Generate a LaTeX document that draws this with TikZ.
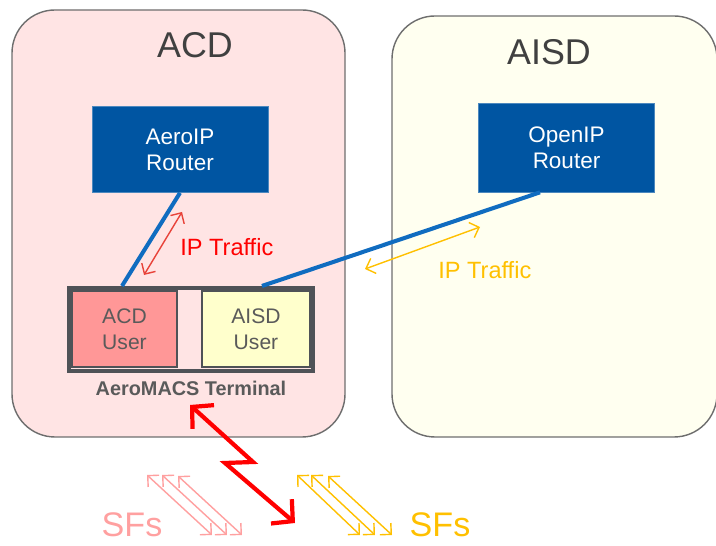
\documentclass[tikz,border=0pt]{standalone}
\usepackage{fontspec}
\setmainfont{Liberation Sans}
\usepackage{tkz-euclide}
\usetikzlibrary{arrows.meta}

\definecolor{acdpink}{HTML}{FFE4E4}
\definecolor{aisdivory}{HTML}{FFFFF0}
\definecolor{zonegrey}{HTML}{6E6E6E}
\definecolor{routerblue}{HTML}{0055A2}
\definecolor{linkblue}{HTML}{106CC0}
\definecolor{usersalmon}{HTML}{FF9797}
\definecolor{useryellow}{HTML}{FFFFCC}
\definecolor{termgrey}{HTML}{4F5257}
\definecolor{trafficred}{HTML}{E8433A}
\definecolor{trafficgold}{HTML}{FFC000}
\definecolor{sfpink}{HTML}{FFA0A0}
\definecolor{labelgrey}{HTML}{404040}
\definecolor{usergrey}{HTML}{5A5A5A}

\tikzset{
  zonebox/.style={draw=zonegrey, line width=0.8pt, rounded corners=0.86cm, inner sep=0pt},
  zonetitle/.style={text=labelgrey, font=\fontsize{20.4}{24}\selectfont},
  router/.style={draw=routerblue!70!white, fill=routerblue, text=white, align=center,
    font=\fontsize{12.8}{14.8}\selectfont, inner sep=0pt, minimum width=3.52cm, minimum height=1.72cm},
  userbox/.style={draw=termgrey, line width=0.6pt, text=usergrey, align=center,
    font=\fontsize{12}{14.8}\selectfont, inner sep=0pt, minimum width=#1, minimum height=1.52cm},
  bluelink/.style={linkblue, line width=2.3pt},
  traffic/.style={{Straight Barb[length=1.6mm,width=3.2mm]}-{Straight Barb[length=1.6mm,width=3.2mm]}, line width=0.8pt},
  radiolink/.style={{Straight Barb[length=3mm,width=6.4mm]}-{Straight Barb[length=3mm,width=6.4mm]},
    red, line width=2.4pt, line join=miter},
  sfarrow/.style={{Straight Barb[length=1.6mm,width=3.2mm]}-{Straight Barb[length=1.6mm,width=3.2mm]}, line width=0.8pt},
  sflabel/.style={inner sep=0pt, font=\fontsize{19.4}{23}\selectfont}
}

\begin{document}
\begin{tikzpicture}
  \useasboundingbox (0,0) rectangle (14.32,10.92);

  \node[zonebox, fill=acdpink, minimum width=6.66cm, minimum height=8.54cm] (acd) at (3.57,6.45) {};
  \node[zonebox, fill=aisdivory, minimum width=6.5cm, minimum height=8.42cm] (aisd) at (11.09,6.39) {};
  \node[zonetitle] (acdtitle) at (3.9,10.02) {ACD};
  \node[zonetitle] (aisdtitle) at (10.98,9.88) {AISD};

  \node[router] (aeroip) at (3.6,7.93) {AeroIP\\Router};
  \node[router, minimum height=1.78cm] (openip) at (11.33,7.97) {OpenIP\\Router};

  \node[draw=termgrey, line width=2.3pt, fill=acdpink, minimum width=4.88cm, minimum height=1.66cm, inner sep=0pt] (term) at (3.82,4.33) {};
  \node[userbox=2.1cm, fill=usersalmon] (acduser) at (2.49,4.34) {ACD\\User};
  \node[userbox=2.16cm, fill=useryellow] (aisduser) at (5.12,4.34) {AISD\\User};
  \node[text=usergrey, font=\bfseries\fontsize{11.3}{13}\selectfont] (termlabel) at (3.82,3.16) {AeroMACS Terminal};

  \draw[bluelink] (aeroip.south) -- ([xshift=1.1cm]term.north west);
  \draw[bluelink] ([xshift=-0.53cm]openip.south) -- ([xshift=3.9cm]term.north west);

  \tkzDefPoints{2.88/5.42/R1, 3.64/6.68/R2, 7.3/5.54/Y1, 9.6/6.38/Y2}
  \tkzDrawSegment[traffic, trafficred](R1,R2)
  \tkzDrawSegment[traffic, trafficgold](Y1,Y2)
  \node[anchor=west, inner sep=0pt, text=red, font=\fontsize{13.4}{16}\selectfont] (acdtraffic) at (3.6,5.98) {IP Traffic};
  \node[anchor=west, inner sep=0pt, text=trafficgold, font=\fontsize{13.4}{16}\selectfont] (aisdtraffic) at (8.76,5.52) {IP Traffic};

  \tkzDefPoints{3.8/2.82/Z1, 5.06/1.68/Z2, 4.5/1.66/Z3, 5.9/0.46/Z4}
  \draw[radiolink] (Z1) -- (Z2) -- (Z3) -- (Z4);

  \tkzDefPoints{2.94/1.42/P1, 3.24/1.42/P2, 3.56/1.4/P3, 4.24/0.22/Q1, 4.54/0.22/Q2, 4.84/0.22/Q3}
  \tkzDrawSegments[sfarrow, sfpink](P1,Q1 P2,Q2 P3,Q3)
  \tkzDefPoints{5.94/1.42/U1, 6.22/1.42/U2, 6.56/1.4/U3, 7.2/0.22/V1, 7.5/0.22/V2, 7.84/0.22/V3}
  \tkzDrawSegments[sfarrow, trafficgold](U1,V1 U2,V2 U3,V3)

  \node[sflabel, text=sfpink] (sfacd) at (2.64,0.43) {SFs};
  \node[sflabel, text=trafficgold] (sfaisd) at (8.8,0.43) {SFs};

\end{tikzpicture}
\end{document}
